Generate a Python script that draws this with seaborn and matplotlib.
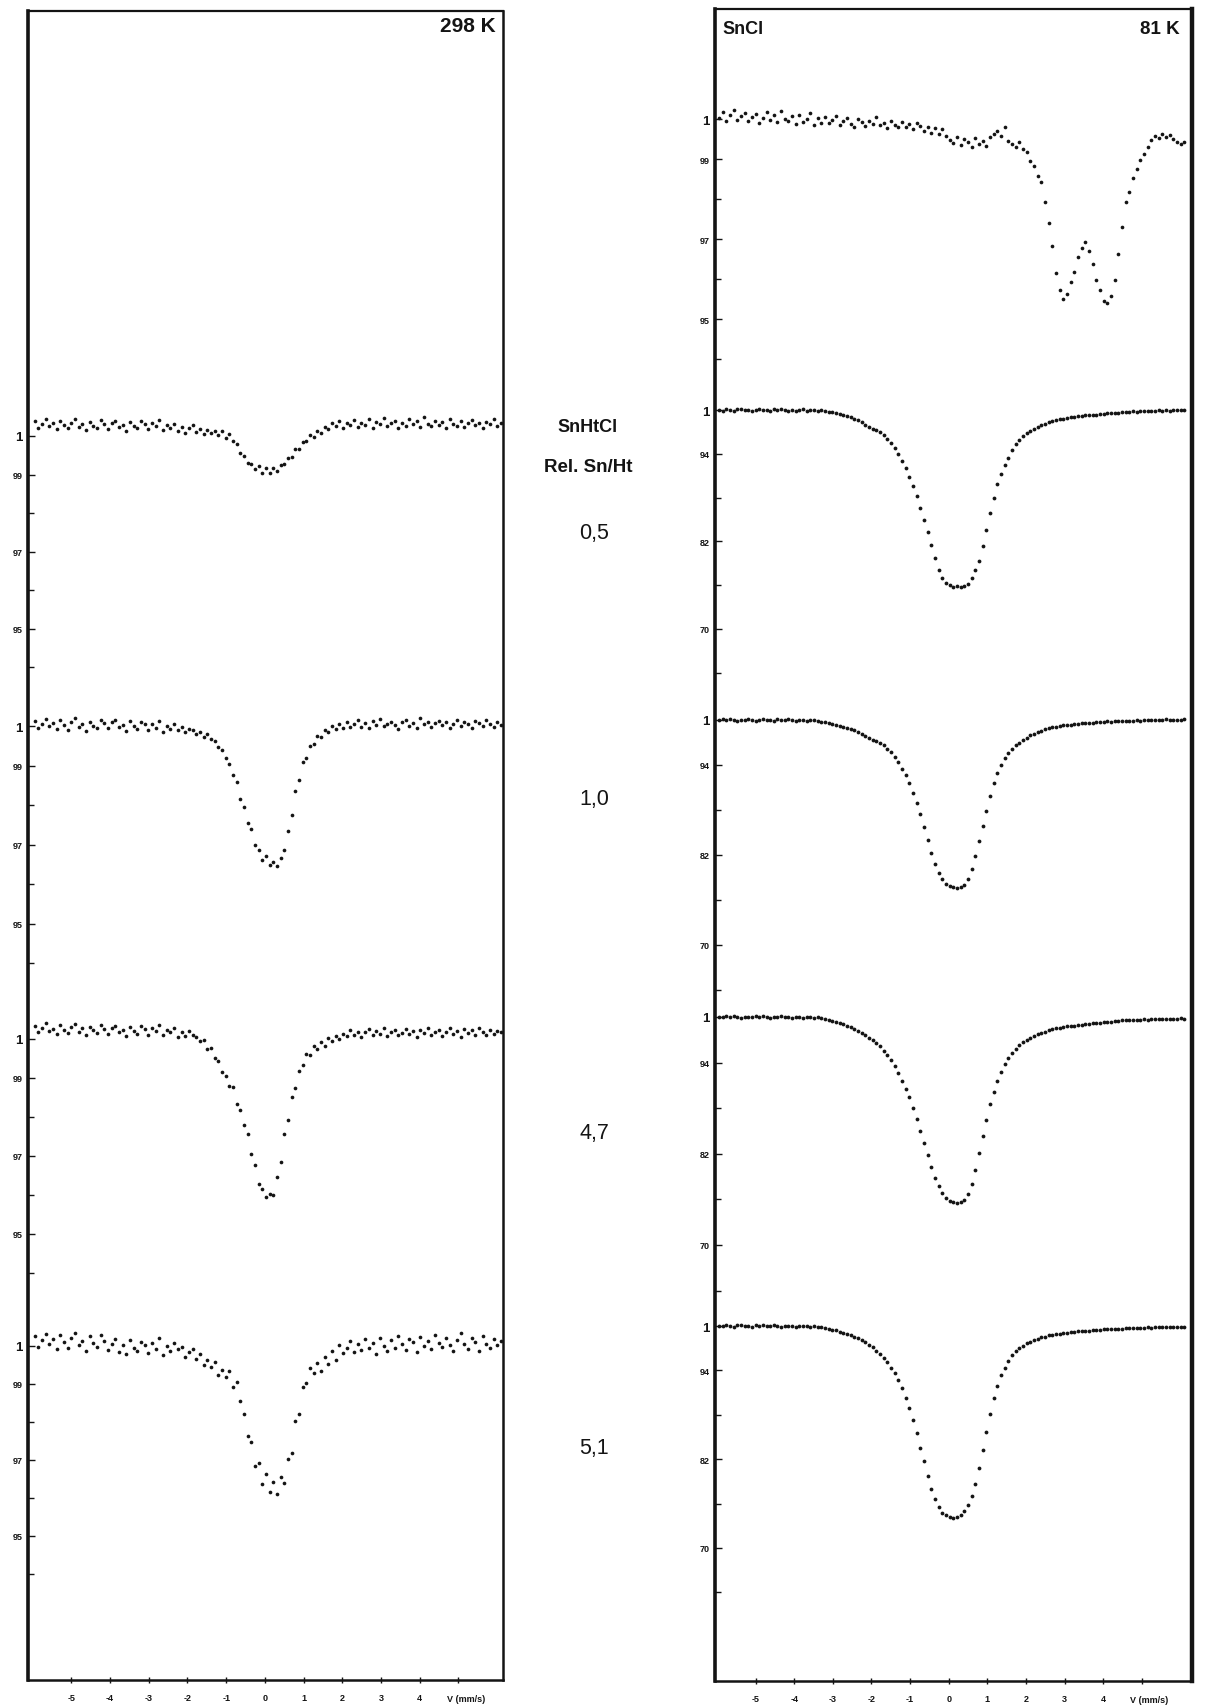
import numpy as np
import pandas as pd
import matplotlib
matplotlib.use("Agg")
import matplotlib.pyplot as plt
import seaborn as sns

# ---------------------------------------------------------------------------
# Mössbauer spectra: relative transmission (%) versus source velocity (mm/s)
# ---------------------------------------------------------------------------

# velocity of each spectrometer channel (mm/s), equally spaced
velocity = np.linspace(-5.95, 6.10, 128)

# 298 K, SnHtCl samples (Rel. Sn/Ht = 0,5 / 1,0 / 4,7 / 5,1)
snhtcl_298_05 = [
    100.38, 100.22, 100.31, 100.45, 100.27, 100.33, 100.18, 100.40, 100.29, 100.21,
    100.35, 100.43, 100.24, 100.30, 100.15, 100.37, 100.26, 100.20, 100.41, 100.32,
    100.19, 100.34, 100.39, 100.23, 100.28, 100.12, 100.36, 100.27, 100.21, 100.38,
    100.30, 100.17, 100.33, 100.25, 100.42, 100.16, 100.29, 100.22, 100.31, 100.13,
    100.24, 100.09, 100.20, 100.28, 100.11, 100.19, 100.05, 100.16, 100.08, 100.14,
    100.02, 100.12, 99.95, 100.04, 99.86, 99.78, 99.57, 99.48, 99.30, 99.27,
    99.14, 99.22, 99.05, 99.16, 99.03, 99.18, 99.09, 99.24, 99.27, 99.44,
    99.46, 99.65, 99.66, 99.84, 99.86, 100.03, 99.98, 100.14, 100.08, 100.24,
    100.19, 100.33, 100.26, 100.38, 100.22, 100.35, 100.29, 100.41, 100.24, 100.34,
    100.28, 100.44, 100.21, 100.36, 100.31, 100.47, 100.25, 100.33, 100.39, 100.20,
    100.35, 100.27, 100.43, 100.30, 100.38, 100.23, 100.49, 100.32, 100.26, 100.40,
    100.29, 100.36, 100.22, 100.45, 100.31, 100.27, 100.39, 100.24, 100.35, 100.42,
    100.28, 100.33, 100.21, 100.37, 100.30, 100.44, 100.26, 100.34,
]
snhtcl_298_10 = [
    100.12, 99.96, 100.05, 100.18, 99.99, 100.08, 99.93, 100.14, 100.03, 99.90,
    100.09, 100.20, 99.97, 100.04, 99.88, 100.11, 100.01, 99.94, 100.16, 100.07,
    99.95, 100.10, 100.15, 99.98, 100.02, 99.87, 100.13, 100.00, 99.92, 100.09,
    100.04, 99.91, 100.06, 99.96, 100.12, 99.85, 100.01, 99.93, 100.05, 99.89,
    99.97, 99.84, 99.93, 99.90, 99.79, 99.86, 99.72, 99.80, 99.66, 99.62,
    99.47, 99.40, 99.18, 99.05, 98.76, 98.58, 98.15, 97.96, 97.55, 97.38,
    96.98, 96.87, 96.62, 96.70, 96.48, 96.56, 96.45, 96.66, 96.85, 97.35,
    97.74, 98.36, 98.64, 99.08, 99.20, 99.50, 99.55, 99.74, 99.72, 99.90,
    99.84, 100.01, 99.92, 100.06, 99.95, 100.10, 99.98, 100.04, 100.14, 99.97,
    100.08, 99.94, 100.12, 100.03, 100.17, 99.99, 100.06, 100.11, 100.02, 99.93,
    100.09, 100.15, 100.00, 100.07, 99.96, 100.19, 100.05, 100.10, 99.97, 100.08,
    100.13, 100.03, 100.10, 99.94, 100.06, 100.16, 100.01, 100.09, 100.04, 99.95,
    100.12, 100.07, 99.99, 100.14, 100.05, 99.98, 100.10, 100.03,
]
snhtcl_298_47 = [
    100.33, 100.17, 100.28, 100.40, 100.21, 100.26, 100.12, 100.35, 100.24, 100.15,
    100.30, 100.38, 100.19, 100.27, 100.10, 100.32, 100.22, 100.16, 100.36, 100.25,
    100.13, 100.29, 100.34, 100.18, 100.23, 100.08, 100.31, 100.20, 100.14, 100.33,
    100.26, 100.11, 100.28, 100.21, 100.37, 100.09, 100.24, 100.17, 100.27, 100.06,
    100.19, 100.08, 100.21, 100.11, 100.04, 99.95, 99.98, 99.74, 99.78, 99.52,
    99.44, 99.15, 99.06, 98.80, 98.76, 98.33, 98.17, 97.80, 97.56, 97.04,
    96.76, 96.28, 96.15, 95.94, 96.02, 96.00, 96.46, 96.84, 97.57, 97.93,
    98.52, 98.74, 99.18, 99.33, 99.62, 99.58, 99.82, 99.74, 99.92, 99.83,
    100.02, 99.94, 100.07, 100.01, 100.14, 100.08, 100.22, 100.11, 100.19, 100.06,
    100.17, 100.25, 100.09, 100.20, 100.13, 100.28, 100.07, 100.18, 100.23, 100.10,
    100.16, 100.26, 100.12, 100.21, 100.05, 100.24, 100.15, 100.29, 100.11, 100.19,
    100.23, 100.08, 100.17, 100.27, 100.13, 100.20, 100.06, 100.25, 100.16, 100.22,
    100.11, 100.28, 100.18, 100.09, 100.24, 100.14, 100.21, 100.17,
]
snhtcl_298_51 = [
    100.25, 99.98, 100.16, 100.32, 100.05, 100.19, 99.92, 100.28, 100.10, 99.95,
    100.21, 100.34, 100.02, 100.14, 99.88, 100.26, 100.08, 99.97, 100.30, 100.12,
    99.90, 100.06, 100.18, 99.85, 100.03, 99.79, 100.15, 99.96, 99.87, 100.11,
    100.02, 99.82, 100.09, 99.93, 100.20, 99.76, 99.99, 99.86, 100.07, 99.91,
    99.98, 99.70, 99.84, 99.92, 99.66, 99.78, 99.49, 99.62, 99.44, 99.58,
    99.24, 99.37, 99.19, 99.33, 98.92, 99.05, 98.55, 98.20, 97.62, 97.48,
    96.85, 96.92, 96.38, 96.62, 96.15, 96.42, 96.10, 96.55, 96.40, 97.02,
    97.18, 98.03, 98.20, 98.92, 99.02, 99.42, 99.28, 99.55, 99.33, 99.70,
    99.52, 99.88, 99.64, 100.02, 99.81, 99.95, 100.12, 99.83, 100.06, 99.90,
    100.18, 99.94, 100.08, 99.78, 100.22, 100.01, 99.87, 100.15, 99.96, 100.27,
    100.04, 99.89, 100.19, 100.10, 99.84, 100.24, 100.00, 100.13, 99.92, 100.30,
    100.07, 99.97, 100.21, 100.03, 99.86, 100.16, 100.33, 100.05, 99.93, 100.20,
    100.11, 99.88, 100.25, 100.06, 99.95, 100.18, 100.02, 100.14,
]

# 81 K: SnCl reference and the same four SnHtCl samples
sncl_81 = [
    100.02, 100.18, 99.96, 100.10, 100.22, 99.98, 100.08, 100.15, 99.94, 100.05,
    100.12, 99.90, 100.03, 100.17, 99.97, 100.09, 99.92, 100.20, 100.01, 99.95,
    100.07, 99.88, 100.11, 99.93, 99.99, 100.14, 99.86, 100.02, 99.91, 100.06,
    99.89, 99.97, 100.08, 99.84, 99.95, 100.03, 99.88, 99.80, 100.00, 99.92,
    99.83, 99.96, 99.87, 100.04, 99.85, 99.91, 99.78, 99.94, 99.86, 99.81,
    99.93, 99.79, 99.88, 99.74, 99.90, 99.82, 99.70, 99.79, 99.66, 99.77,
    99.62, 99.75, 99.58, 99.48, 99.40, 99.55, 99.36, 99.50, 99.42, 99.31,
    99.52, 99.38, 99.46, 99.33, 99.55, 99.62, 99.70, 99.58, 99.80, 99.45,
    99.38, 99.30, 99.42, 99.25, 99.18, 98.95, 98.82, 98.58, 98.42, 97.93,
    97.41, 96.82, 96.15, 95.72, 95.50, 95.63, 95.92, 96.18, 96.55, 96.78,
    96.92, 96.70, 96.38, 95.98, 95.72, 95.46, 95.40, 95.58, 95.98, 96.62,
    97.30, 97.92, 98.18, 98.52, 98.74, 98.98, 99.12, 99.30, 99.48, 99.58,
    99.52, 99.62, 99.55, 99.60, 99.50, 99.42, 99.38, 99.43,
]
snhtcl_81_05 = [
    100.05, 99.92, 100.10, 100.02, 99.88, 100.08, 100.15, 99.95, 100.03, 99.90,
    100.06, 100.12, 99.97, 100.01, 99.89, 100.07, 99.98, 100.11, 100.04, 99.93,
    100.02, 99.86, 99.99, 100.08, 99.91, 99.96, 100.03, 99.85, 99.94, 99.82,
    99.75, 99.70, 99.58, 99.52, 99.33, 99.22, 98.98, 98.82, 98.58, 98.32,
    98.00, 97.72, 97.43, 97.22, 96.93, 96.62, 96.08, 95.52, 94.78, 93.92,
    92.98, 92.02, 90.88, 89.62, 88.18, 86.62, 84.88, 83.22, 81.48, 79.72,
    78.08, 76.92, 76.28, 76.02, 75.78, 75.92, 75.76, 75.94, 76.18, 76.92,
    78.02, 79.38, 81.42, 83.58, 85.92, 87.98, 89.82, 91.18, 92.42, 93.48,
    94.52, 95.28, 95.92, 96.38, 96.82, 97.08, 97.42, 97.68, 97.92, 98.08,
    98.32, 98.48, 98.62, 98.70, 98.82, 98.88, 99.02, 99.04, 99.12, 99.18,
    99.26, 99.28, 99.36, 99.38, 99.46, 99.48, 99.56, 99.58, 99.62, 99.64,
    99.72, 99.68, 99.76, 99.82, 99.78, 99.86, 99.90, 99.84, 99.92, 99.88,
    99.95, 99.90, 99.98, 99.93, 100.02, 99.96, 100.04, 99.99,
]
snhtcl_81_10 = [
    99.95, 100.08, 99.98, 100.12, 100.02, 99.90, 100.06, 99.97, 100.10, 100.01,
    99.92, 100.05, 100.14, 99.96, 100.03, 99.88, 100.07, 100.00, 99.94, 100.09,
    100.04, 99.93, 100.06, 99.98, 99.89, 100.02, 99.95, 99.90, 99.80, 99.72,
    99.60, 99.52, 99.38, 99.26, 99.08, 98.96, 98.78, 98.62, 98.34, 98.12,
    97.88, 97.66, 97.38, 97.16, 96.88, 96.62, 96.18, 95.72, 95.08, 94.42,
    93.48, 92.62, 91.58, 90.32, 88.88, 87.42, 85.78, 84.02, 82.28, 80.82,
    79.58, 78.82, 78.18, 77.92, 77.68, 77.62, 77.72, 78.02, 78.78, 80.12,
    81.88, 83.92, 85.88, 87.92, 89.88, 91.62, 92.88, 94.02, 94.88, 95.62,
    96.08, 96.62, 96.98, 97.36, 97.64, 97.96, 98.18, 98.42, 98.58, 98.76,
    98.88, 99.02, 99.08, 99.22, 99.28, 99.36, 99.38, 99.46, 99.48, 99.56,
    99.58, 99.66, 99.64, 99.72, 99.70, 99.76, 99.82, 99.78, 99.86, 99.84,
    99.90, 99.86, 99.92, 99.88, 99.96, 99.92, 100.02, 99.97, 100.05, 99.98,
    100.03, 99.95, 100.07, 100.01, 99.96, 100.05, 100.02, 100.08,
]
snhtcl_81_47 = [
    100.04, 99.94, 100.09, 99.98, 100.12, 100.00, 99.91, 100.06, 100.02, 99.95,
    100.08, 99.97, 100.13, 100.01, 99.92, 100.05, 99.99, 100.10, 99.96, 100.03,
    99.93, 100.06, 100.00, 99.90, 100.04, 99.95, 99.88, 99.97, 99.86, 99.78,
    99.62, 99.48, 99.36, 99.18, 99.02, 98.78, 98.62, 98.38, 98.22, 97.88,
    97.62, 97.28, 96.96, 96.58, 96.16, 95.58, 95.02, 94.28, 93.52, 92.58,
    91.62, 90.58, 89.42, 87.98, 86.62, 84.98, 83.42, 81.78, 80.32, 78.88,
    77.72, 76.78, 76.12, 75.78, 75.62, 75.48, 75.62, 75.88, 76.72, 77.98,
    79.92, 82.08, 84.32, 86.48, 88.52, 90.18, 91.62, 92.78, 93.82, 94.58,
    95.32, 95.78, 96.32, 96.68, 97.02, 97.28, 97.56, 97.74, 97.96, 98.08,
    98.26, 98.38, 98.52, 98.58, 98.72, 98.78, 98.86, 98.88, 98.96, 98.98,
    99.06, 99.08, 99.16, 99.18, 99.26, 99.28, 99.36, 99.38, 99.46, 99.48,
    99.56, 99.58, 99.62, 99.58, 99.64, 99.60, 99.68, 99.66, 99.72, 99.70,
    99.76, 99.72, 99.78, 99.74, 99.80, 99.76, 99.82, 99.78,
]
snhtcl_81_51 = [
    100.06, 99.96, 100.10, 100.01, 99.93, 100.08, 100.14, 99.97, 100.03, 99.91,
    100.07, 99.99, 100.11, 100.02, 99.94, 100.09, 100.00, 99.92, 100.05, 99.98,
    100.04, 99.90, 100.06, 99.97, 100.01, 99.93, 99.98, 99.87, 99.80, 99.74,
    99.62, 99.50, 99.42, 99.24, 99.12, 98.94, 98.82, 98.58, 98.36, 98.08,
    97.82, 97.48, 97.12, 96.68, 96.22, 95.68, 95.12, 94.38, 93.62, 92.68,
    91.62, 90.28, 88.92, 87.28, 85.52, 83.58, 81.72, 79.78, 78.02, 76.58,
    75.52, 74.78, 74.42, 74.18, 74.12, 74.22, 74.48, 75.02, 75.78, 77.02,
    78.68, 80.82, 83.18, 85.72, 88.08, 90.22, 91.88, 93.32, 94.38, 95.32,
    96.02, 96.58, 97.02, 97.32, 97.68, 97.88, 98.12, 98.28, 98.46, 98.58,
    98.72, 98.78, 98.92, 98.98, 99.06, 99.08, 99.16, 99.18, 99.26, 99.28,
    99.36, 99.38, 99.46, 99.48, 99.52, 99.54, 99.58, 99.56, 99.62, 99.64,
    99.66, 99.72, 99.70, 99.74, 99.72, 99.78, 99.76, 99.80, 99.78, 99.82,
    99.80, 99.84, 99.82, 99.86, 99.84, 99.88, 99.85, 99.86,
]

ratio_labels = ["0,5", "1,0", "4,7", "5,1"]
velocity_ticks = [-5, -4, -3, -2, -1, 0, 1, 2, 3, 4, 5]
velocity_ticklabels = ["-5", "-4", "-3", "-2", "-1", "0", "1", "2", "3", "4", ""]

# tick sets for the two transmission scales
fine_major = [95, 97, 99, 100]
fine_labels = ["95", "97", "99", "1"]
fine_minor = [94, 96, 98]
coarse_major = [70, 82, 94, 100]
coarse_labels = ["70", "82", "94", "1"]
coarse_minor = [64, 76, 88]

# ---------------------------------------------------------------------------
sns.set_theme(style="white")
plt.rcParams["font.family"] = ["Liberation Sans", "DejaVu Sans"]

W, H = 1208, 1708
fig = plt.figure(figsize=(W / 100, H / 100), dpi=100)
fig.patch.set_facecolor("white")
INK = "#141414"


def rect(x0, y0, x1, y1):
    """Pixel box (top-left origin) -> figure-fraction rectangle."""
    return [x0 / W, 1 - y1 / H, (x1 - x0) / W, (y1 - y0) / H]


def frame_axes(x0, y0, x1, y1, xlim, lw_left, lw_right):
    ax = fig.add_axes(rect(x0, y0, x1, y1))
    ax.set_xlim(*xlim)
    ax.set_ylim(0, 1)
    ax.set_facecolor("none")
    for side, lw in (("left", lw_left), ("right", lw_right), ("top", 1.6), ("bottom", 1.8)):
        ax.spines[side].set_visible(True)
        ax.spines[side].set_linewidth(lw)
        ax.spines[side].set_color(INK)
    ax.set_yticks([])
    ax.set_xticks(velocity_ticks)
    ax.set_xticklabels(velocity_ticklabels, fontsize=6.5, fontweight="bold", color=INK)
    ax.tick_params(axis="x", direction="inout", length=5, width=1.0, pad=7,
                   bottom=True, colors=INK)
    ax.text(5 - 0.3, -0.0085, "V (mm/s)", transform=ax.get_xaxis_transform(),
            ha="left", va="top", fontsize=6.5, fontweight="bold", color=INK)
    return ax


def spectrum_axes(x0, x1, xlim, base_px, px_per_pct, lo, hi, values,
                  major, labels, minor, dot):
    top = base_px - (hi - 100) * px_per_pct
    bot = base_px + (100 - lo) * px_per_pct
    ax = fig.add_axes(rect(x0, top, x1, bot))
    ax.set_facecolor("none")
    ax.set_xlim(*xlim)
    ax.set_ylim(lo, hi)
    for s in ax.spines.values():
        s.set_visible(False)
    df = pd.DataFrame({"velocity": velocity, "transmission": values})
    sns.scatterplot(data=df, x="velocity", y="transmission", ax=ax, s=dot,
                    color=INK, linewidth=0, legend=False, clip_on=False)
    ax.set_xlabel("")
    ax.set_ylabel("")
    ax.set_xticks([])
    ax.set_yticks(major)
    ax.set_yticklabels(labels)
    ax.set_yticks(minor, minor=True)
    ax.tick_params(axis="y", which="both", direction="in", left=True,
                   width=1.0, colors=INK, pad=4)
    ax.tick_params(axis="y", which="major", length=5)
    ax.tick_params(axis="y", which="minor", length=4)
    for lab in ax.get_yticklabels():
        if lab.get_text() == "1":
            lab.set_fontsize(9.5)
        else:
            lab.set_fontsize(6.5)
        lab.set_fontweight("bold")
    return ax


# ----- left panel: 298 K ---------------------------------------------------
LX0, LX1, LXLIM = 28, 503, (-6.12, 6.15)
frame_axes(LX0, 12, LX1, 1681, LXLIM, 2.6, 1.8)

left_sets = [
    (snhtcl_298_05, 437, 38.5),
    (snhtcl_298_10, 727, 39.5),
    (snhtcl_298_47, 1040, 39.0),
    (snhtcl_298_51, 1347, 38.0),
]
for vals, base, ppp in left_sets:
    spectrum_axes(LX0, LX1, LXLIM, base, ppp, 93.8, 100.8, vals,
                  fine_major, fine_labels, fine_minor, dot=7)

# ----- right panel: 81 K ---------------------------------------------------
RX0, RX1, RXLIM = 715, 1192, (-6.05, 6.30)
frame_axes(RX0, 10, RX1, 1682, RXLIM, 2.6, 3.2)

spectrum_axes(RX0, RX1, RXLIM, 120, 40.0, 93.8, 100.6, sncl_81,
              fine_major, fine_labels, fine_minor, dot=7)
right_sets = [
    (snhtcl_81_05, 411, 7.3),
    (snhtcl_81_10, 721, 7.5),
    (snhtcl_81_47, 1018, 7.6),
    (snhtcl_81_51, 1327, 7.4),
]
for vals, base, ppp in right_sets:
    spectrum_axes(RX0, RX1, RXLIM, base, ppp, 63, 101.5, vals,
                  coarse_major, coarse_labels, coarse_minor, dot=7.5)

# ----- titles and sample annotations --------------------------------------
def ftext(x, y, s, **kw):
    fig.text(x / W, 1 - y / H, s, color=INK, **kw)


ftext(496, 26, "298 K", ha="right", va="center", fontsize=15, fontweight="bold")
ftext(722, 30, "SnCl", ha="left", va="center", fontsize=13, fontweight="bold")
ftext(1180, 30, "81 K", ha="right", va="center", fontsize=13.5, fontweight="bold")

ftext(588, 427, "SnHtCl", ha="center", va="center", fontsize=13, fontweight="bold")
ftext(588, 468, "Rel. Sn/Ht", ha="center", va="center", fontsize=13.5, fontweight="bold")
label_y = [534, 800, 1133, 1449]
for lab, y in zip(ratio_labels, label_y):
    ftext(594, y, lab, ha="center", va="center", fontsize=15.5)

fig.savefig("out.png", dpi=100, facecolor="white")
